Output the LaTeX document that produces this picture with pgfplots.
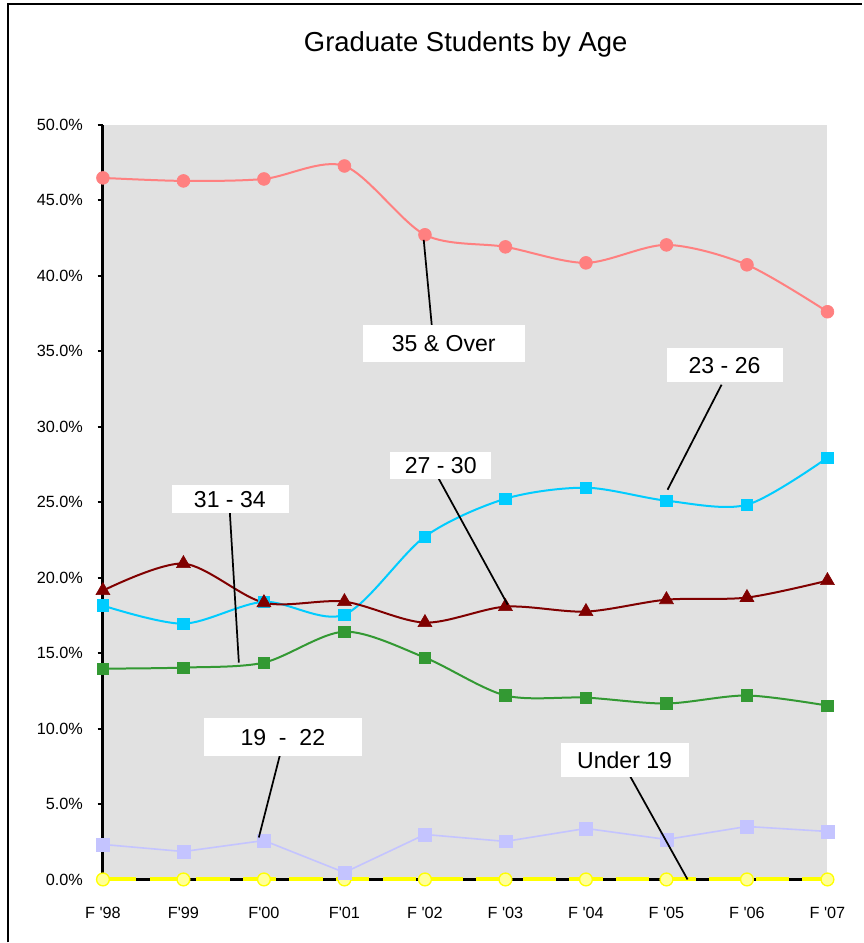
\documentclass[border=0pt]{standalone}
\usepackage{fontspec}
\setmainfont{Liberation Sans}
\usepackage{pgfplots}
\pgfplotsset{compat=1.18}

\definecolor{plotbg}{HTML}{E1E1E1}
\definecolor{salmon}{HTML}{FF8080}
\definecolor{skyc}{HTML}{00CCFF}
\definecolor{maroon}{HTML}{800000}
\definecolor{grn}{HTML}{339933}
\definecolor{lav}{HTML}{C4C4FF}
\definecolor{yel}{HTML}{FFFF00}
\definecolor{paleyel}{HTML}{FFFF99}

\newcommand{\lbl}{\fontsize{17.3}{19}\selectfont}

\begin{document}
\begin{tikzpicture}
\begin{axis}[
    at={(77.25pt,-660pt)}, anchor=south west,
    scale only axis, width=543.75pt, height=566.25pt,
    xmin=0, xmax=9, ymin=0, ymax=50,
    clip=false,
    axis x line*=bottom, axis y line*=left,
    axis line style={-, line width=2.25pt, black},
    axis background/.style={fill=plotbg},
    xtick={0,...,9},
    xticklabels={F \textquotesingle98, F\textquotesingle99, F\textquotesingle00, F\textquotesingle01,
        F \textquotesingle02, F \textquotesingle03, F \textquotesingle04, F \textquotesingle05,
        F \textquotesingle06, F \textquotesingle07},
    xtick style={draw=none},
    xticklabel style={yshift=-13pt},
    ytick={0,5,...,50},
    ytick style={line width=1.5pt, black},
    tick align=outside, major tick length=4pt,
    /pgf/number format/assume math mode=true,
    yticklabel={\pgfmathprintnumber[fixed,fixed zerofill,precision=1]{\tick}\%},
    yticklabel style={xshift=-7.5pt},
    tick label style={font=\fontsize{12.2}{14}\selectfont},
]

% Under 19
\addplot[yel, line width=3pt, dash pattern=on 25pt off 10pt,
    mark=*, mark size=4.8pt,
    mark options={solid, fill=paleyel, draw=yel, line width=1pt}]
    coordinates {(0,0) (1,0) (2,0) (3,0) (4,0) (5,0) (6,0) (7,0) (8,0) (9,0)};

% 19 - 22
\addplot[lav, line width=1.2pt, mark=square*, mark size=4.8pt,
    mark options={fill=lav, draw=lav, line width=0.5pt}]
    coordinates {(0,2.32) (1,1.85) (2,2.58) (3,0.46) (4,2.98)
                 (5,2.52) (6,3.38) (7,2.65) (8,3.51) (9,3.18)};

% 23 - 26
\addplot[skyc, line width=1.5pt, smooth, tension=0.5, mark=square*, mark size=4.3pt,
    mark options={fill=skyc, draw=skyc, line width=0.5pt}]
    coordinates {(0,18.15) (1,16.95) (2,18.40) (3,17.55) (4,22.72)
                 (5,25.23) (6,25.96) (7,25.10) (8,24.83) (9,27.95)};

% 27 - 30
\addplot[maroon, line width=1.5pt, smooth, tension=0.5, mark=triangle*, mark size=6pt,
    mark options={fill=maroon, draw=maroon, line width=0.5pt}]
    coordinates {(0,19.14) (1,20.93) (2,18.34) (3,18.41) (4,17.02)
                 (5,18.08) (6,17.75) (7,18.54) (8,18.68) (9,19.80)};

% 31 - 34
\addplot[grn, line width=1.5pt, smooth, tension=0.5, mark=square*, mark size=4.3pt,
    mark options={fill=grn, draw=grn, line width=0.5pt}]
    coordinates {(0,13.97) (1,14.04) (2,14.37) (3,16.42) (4,14.70)
                 (5,12.19) (6,12.05) (7,11.66) (8,12.19) (9,11.52)};

% 35 & Over
\addplot[salmon, line width=1.5pt, smooth, tension=0.5, mark=*, mark size=4.8pt,
    mark options={fill=salmon, draw=salmon, line width=0.5pt}]
    coordinates {(0,46.49) (1,46.29) (2,46.42) (3,47.28) (4,42.72)
                 (5,41.92) (6,40.86) (7,42.05) (8,40.73) (9,37.62)};
\end{axis}

% annotations, in pixel units of the reference
\begin{scope}[x=0.75pt, y=-0.75pt]
\path (0,0) rectangle (863,943);
\draw[line width=0.9pt] (8,943) -- (8,4) -- (863,4);
\node[font=\fontsize{20.6}{23}\selectfont] at (466,44) {Graduate Students by Age};

\begin{scope}[line width=1.3pt]
\draw (432,325) -- (424,240);
\draw (722,385) -- (668,490);
\draw (439,479) -- (508,605);
\draw (230,513) -- (239,663);
\draw (281,752) -- (259,838);
\draw (629,774) -- (688,880);
\end{scope}

\fill[white] (363,325) rectangle (525,362);
\node[font=\lbl] at (444,344) {35 \& Over};
\fill[white] (667,348) rectangle (783,382);
\node[font=\lbl] at (725,366) {23 - 26};
\fill[white] (390,452) rectangle (491,479);
\node[font=\lbl] at (441,466) {27 - 30};
\fill[white] (172,485) rectangle (289,513);
\node[font=\lbl] at (230,500) {31 - 34};
\fill[white] (204,718) rectangle (362,756);
\node[font=\lbl] at (283,738) {19\ \ -\ \ 22};
\fill[white] (561,743) rectangle (689,777);
\node[font=\lbl] at (625,761) {Under 19};
\end{scope}
\end{tikzpicture}
\end{document}
